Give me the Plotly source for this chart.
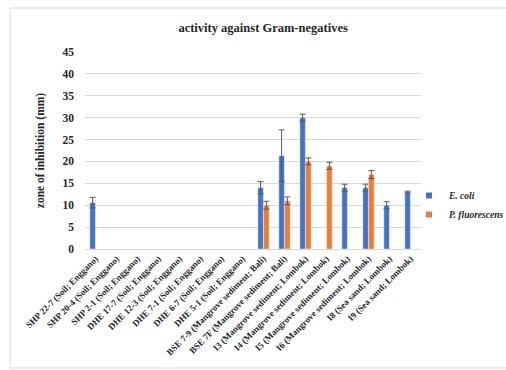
import plotly.graph_objects as go

categories = [
    "SHP 22-7 (Soil; Enggano)", "SHP 20-4 (Soil; Enggano)", "SHP 2-1 (Soil; Enggano)",
    "DHE 17-7 (Soil; Enggano)", "DHE 12-3 (Soil; Enggano)", "DHE 7-1 (Soil; Enggano)",
    "DHE 6-7 (Soil; Enggano)", "DHE 5-1 (Soil; Enggano)",
    "BSE 7-9 (Mangrove sediment; Bali)", "BSE 7F (Mangrove sediment; Bali)",
    "I3 (Mangrove sediment; Lombok)", "I4 (Mangrove sediment; Lombok)",
    "I5 (Mangrove sediment; Lombok)", "I6 (Mangrove sediment; Lombok)",
    "I8 (Sea sand; Lombok)", "I9 (Sea sand; Lombok)",
]
ecoli = [10.6, None, None, None, None, None, None, None, 14.0, 21.3, 30.0, None, 14.0, 14.0, 10.0, 13.0]
ecoli_err = [1.2, 0, 0, 0, 0, 0, 0, 0, 1.4, 5.9, 0.8, 0, 0.8, 0.8, 0.8, 0.2]
pflu = [None, None, None, None, None, None, None, None, 10.0, 11.0, 20.0, 19.0, None, 17.0, None, None]
pflu_err = [0, 0, 0, 0, 0, 0, 0, 0, 0.9, 0.9, 0.8, 0.8, 0, 0.9, 0, 0]

FONT = "Liberation Serif"
BLUE = "#4472C4"
ORANGE = "#ED7D31"
ERR = "#595959"

fig = go.Figure()
fig.add_trace(go.Bar(x=categories, y=ecoli, marker_color=BLUE, showlegend=False,
                     error_y=dict(type="data", array=ecoli_err, color=ERR, thickness=1, width=3)))
fig.add_trace(go.Bar(x=categories, y=pflu, marker_color=ORANGE, showlegend=False,
                     error_y=dict(type="data", array=pflu_err, color=ERR, thickness=1, width=3)))
fig.add_trace(go.Scatter(x=[None], y=[None], mode="markers", name="<i>E. coli</i>",
                         marker=dict(symbol="square", size=6, color=BLUE)))
fig.add_trace(go.Scatter(x=[None], y=[None], mode="markers", name="<i>P. fluorescens</i>",
                         marker=dict(symbol="square", size=6, color=ORANGE)))

fig.update_layout(
    width=506, height=370,
    margin=dict(l=85, r=85, t=52, b=121, autoexpand=False),
    paper_bgcolor="white", plot_bgcolor="white",
    barmode="group", bargap=0.45, bargroupgap=0.05,
    font=dict(family=FONT, color="#262626"),
    title=dict(text="<b>activity against Gram-negatives</b>", x=0.52, xanchor="center",
               y=1 - 28 / 370, yanchor="middle", font=dict(size=12.5, family=FONT, color="#262626")),
    xaxis=dict(tickangle=-45, automargin=False,
               tickfont=dict(size=9, family=FONT, color="#262626", weight="bold"),
               showgrid=False, showline=True, linecolor="#d9d9d9", linewidth=1, ticks=""),
    yaxis=dict(range=[0, 45], dtick=5, showgrid=True, gridcolor="#d9d9d9", gridwidth=1,
               zeroline=False, showline=False, ticks="", automargin=False, ticklabelstandoff=10,
               tickfont=dict(size=11.5, family=FONT, color="#262626", weight="bold"),
               title=dict(text="<b>zone of inhibition (mm)</b>", standoff=15,
                          font=dict(size=11.5, family=FONT, color="#262626"))),
    legend=dict(xref="container", yref="container", x=409 / 506, y=1 - 181 / 370,
                xanchor="left", yanchor="top", itemwidth=30, tracegroupgap=0,
                font=dict(size=9.5, family=FONT, color="#262626", weight="bold"),
                bgcolor="rgba(0,0,0,0)"),
    shapes=[dict(type="rect", xref="paper", yref="paper",
                 x0=(10 - 85) / 336, x1=(520 - 85) / 336,
                 y0=(249 - 368) / 197, y1=(249 - 8) / 197,
                 line=dict(color="#d9d9d9", width=1), fillcolor="rgba(0,0,0,0)", layer="below")],
)

fig.write_html("out.html", config={"displayModeBar": False},
               post_script="document.body.style.margin='0';")
